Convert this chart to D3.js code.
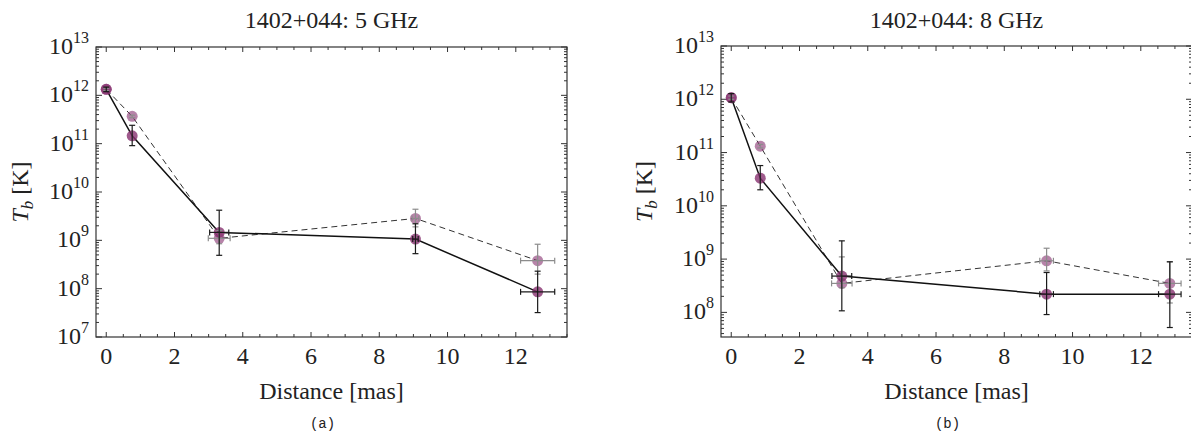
<!DOCTYPE html>
<html><head><meta charset="utf-8">
<script src="https://cdn.jsdelivr.net/npm/d3@7"></script>
<style>body{margin:0;background:#fff}</style>
</head><body><svg id="c" width="1191" height="435"></svg>
<script>
// ---- 5 GHz panel data ----
const distance5 = [0, 0.76, 3.31, 9.06, 12.64];
const tbSolid5 = [1.33e12, 1.45e11, 1.46e9, 1.06e9, 8.6e7];
const tbSolid5Hi = [1.48e12, 2.4e11, 4.2e9, 2.2e9, 2.3e8];
const tbSolid5Lo = [1.19e12, 9.1e10, 4.9e8, 5.3e8, 3.2e7];
const xErrSolid5 = [0, 0, 0.28, 0.08, 0.5];
const tbDash5 = [1.33e12, 3.67e11, 1.1e9, 2.84e9, 3.8e8];
const tbDash5Hi = [1.4e12, 3.9e11, 1.6e9, 4.4e9, 8.3e8];
const tbDash5Lo = [1.26e12, 3.45e11, 8.5e8, 1.9e9, 2.0e8];
const xErrDash5 = [0, 0, 0.32, 0.1, 0.5];

// ---- 8 GHz panel data ----
const distance8 = [0, 0.85, 3.24, 9.24, 12.85];
const tbSolid8 = [1.07e12, 3.3e10, 4.8e8, 2.2e8, 2.2e8];
const tbSolid8Hi = [1.28e12, 5.7e10, 2.2e9, 5.6e8, 8.9e8];
const tbSolid8Lo = [8.9e11, 2.0e10, 1.07e8, 9.1e7, 5.2e7];
const xErrSolid8 = [0, 0, 0.29, 0.2, 0.33];
const tbDash8 = [1.07e12, 1.32e11, 3.5e8, 9.3e8, 3.5e8];
const tbDash8Hi = [1.15e12, 1.42e11, 1.1e9, 1.6e9, 8.9e8];
const tbDash8Lo = [1.0e12, 1.22e11, 2.9e8, 6.0e8, 1.5e8];
const xErrDash8 = [0, 0, 0.3, 0.2, 0.33];

const titles = ["1402+044: 5 GHz", "1402+044: 8 GHz"];
const captions = ["(a)", "(b)"];
const xTicks = [0, 2, 4, 6, 8, 10, 12];
const xLabel = "Distance [mas]";

const svg = d3.select("#c");
const serif = "'Liberation Serif','Times New Roman',serif";

function panel(o) {
  const g = svg.append("g");
  const x = d3.scaleLinear().domain([-0.3, 13.5]).range([o.x0, o.x1]);
  const y = d3.scaleLog().domain(o.ydom).range([o.y1, o.y0]);
  const spine = "#333";
  g.append("rect").attr("x", o.x0).attr("y", o.y0).attr("width", o.x1 - o.x0).attr("height", o.y1 - o.y0)
    .attr("fill", "none").attr("stroke", spine).attr("stroke-width", 1.2);
  const xminor = d3.range(0, 13.51, 0.5);
  xminor.forEach(v => {
    const major = Math.abs(v % 2) < 1e-9;
    const L = major ? 5 : 3;
    const px = x(v);
    g.append("line").attr("x1", px).attr("x2", px).attr("y1", o.y1).attr("y2", o.y1 - L).attr("stroke", spine).attr("stroke-width", 1);
    g.append("line").attr("x1", px).attr("x2", px).attr("y1", o.y0).attr("y2", o.y0 + L).attr("stroke", spine).attr("stroke-width", 1);
  });
  xTicks.forEach(v => {
    g.append("text").attr("x", x(v)).attr("y", o.y1 + 27).attr("text-anchor", "middle")
      .attr("font-family", serif).attr("font-size", 24).attr("fill", "#222").text(v);
  });
  const [lo, hi] = o.ydom;
  const e0 = Math.floor(Math.log10(lo)), e1 = Math.ceil(Math.log10(hi));
  for (let e = e0; e <= e1; e++) {
    for (let m = 1; m <= 9; m++) {
      const v = m * Math.pow(10, e);
      if (v < lo * 0.999 || v > hi * 1.001) continue;
      const L = m === 1 ? 6 : 3;
      const py = y(v);
      g.append("line").attr("x1", o.x0).attr("x2", o.x0 + L).attr("y1", py).attr("y2", py).attr("stroke", spine).attr("stroke-width", 1);
      g.append("line").attr("x1", o.x1).attr("x2", o.x1 - L).attr("y1", py).attr("y2", py).attr("stroke", spine).attr("stroke-width", 1);
      if (m === 1) {
        const t = g.append("text").attr("x", o.x0 - 7).attr("y", py + 7).attr("text-anchor", "end")
          .attr("font-family", serif).attr("font-size", 24).attr("fill", "#222");
        t.append("tspan").text("10");
        t.append("tspan").attr("dy", -11).attr("font-size", 16).text(e);
      }
    }
  }
  const yl = g.append("text").attr("transform", `translate(${o.ylx},${(o.y0 + o.y1) / 2}) rotate(-90)`)
    .attr("text-anchor", "middle").attr("font-family", serif).attr("font-size", 24).attr("fill", "#222");
  yl.append("tspan").attr("font-style", "italic").text("T");
  yl.append("tspan").attr("font-style", "italic").attr("font-size", 17).attr("dy", 5).text("b");
  yl.append("tspan").attr("dy", -5).text(" [K]");
  g.append("text").attr("x", (o.x0 + o.x1) / 2).attr("y", o.y1 + 62).attr("text-anchor", "middle")
    .attr("font-family", serif).attr("font-size", 24).attr("fill", "#222").text(xLabel);
  g.append("text").attr("x", (o.x0 + o.x1) / 2).attr("y", 28).attr("text-anchor", "middle")
    .attr("font-family", serif).attr("font-size", 24).attr("fill", "#222").text(o.title);
  g.append("text").attr("x", (o.x0 + o.x1) / 2 - 9).attr("y", 428).attr("text-anchor", "middle")
    .attr("font-family", "'Liberation Mono','DejaVu Sans Mono',monospace").attr("font-size", 14).attr("fill", "#222").text(o.caption);

  const line = d3.line().x(d => x(d[0])).y(d => y(d[1]));
  const dashPts = o.dx.map((d, i) => [d, o.dy[i]]);
  const solidPts = o.dx.map((d, i) => [d, o.sy[i]]);
  g.append("path").attr("d", line(dashPts)).attr("fill", "none").attr("stroke", "#333").attr("stroke-width", 1).attr("stroke-dasharray", "6,4");
  g.append("path").attr("d", line(solidPts)).attr("fill", "none").attr("stroke", "#111").attr("stroke-width", 1.5);

  const mcol = "#87316f";
  dashPts.forEach(p => g.append("circle").attr("cx", x(p[0])).attr("cy", y(p[1])).attr("r", 5.5).attr("fill", mcol).attr("fill-opacity", 0.6));
  solidPts.forEach(p => g.append("circle").attr("cx", x(p[0])).attr("cy", y(p[1])).attr("r", 5.5).attr("fill", mcol).attr("fill-opacity", 0.8));

  function errbars(xs, ys, hi, loA, xe, col) {
    xs.forEach((xv, i) => {
      const px = x(xv), py = y(ys[i]);
      const ph = y(hi[i]), pl = y(loA[i]);
      const c = 3;
      g.append("line").attr("x1", px).attr("x2", px).attr("y1", ph).attr("y2", pl).attr("stroke", col).attr("stroke-width", 1.2);
      g.append("line").attr("x1", px - c).attr("x2", px + c).attr("y1", ph).attr("y2", ph).attr("stroke", col).attr("stroke-width", 1.2);
      g.append("line").attr("x1", px - c).attr("x2", px + c).attr("y1", pl).attr("y2", pl).attr("stroke", col).attr("stroke-width", 1.2);
      if (xe[i] > 0) {
        const a = x(xv - xe[i]), b = x(xv + xe[i]);
        g.append("line").attr("x1", a).attr("x2", b).attr("y1", py).attr("y2", py).attr("stroke", col).attr("stroke-width", 1.2);
        g.append("line").attr("x1", a).attr("x2", a).attr("y1", py - c).attr("y2", py + c).attr("stroke", col).attr("stroke-width", 1.2);
        g.append("line").attr("x1", b).attr("x2", b).attr("y1", py - c).attr("y2", py + c).attr("stroke", col).attr("stroke-width", 1.2);
      }
    });
  }
  errbars(o.dx, o.dy, o.dhi, o.dlo, o.dxe, "#8c8c8c");
  errbars(o.dx, o.sy, o.shi, o.slo, o.sxe, "#1a1a1a");
}

panel({x0: 96, x1: 567, y0: 47, y1: 337, ydom: [1e7, 1e13], ylx: 28, title: titles[0], caption: captions[0],
  dx: distance5, sy: tbSolid5, shi: tbSolid5Hi, slo: tbSolid5Lo, sxe: xErrSolid5,
  dy: tbDash5, dhi: tbDash5Hi, dlo: tbDash5Lo, dxe: xErrDash5});
panel({x0: 721, x1: 1192, y0: 46, y1: 337, ydom: [3.45e7, 1e13], ylx: 652, title: titles[1], caption: captions[1],
  dx: distance8, sy: tbSolid8, shi: tbSolid8Hi, slo: tbSolid8Lo, sxe: xErrSolid8,
  dy: tbDash8, dhi: tbDash8Hi, dlo: tbDash8Lo, dxe: xErrDash8});
</script></body></html>
